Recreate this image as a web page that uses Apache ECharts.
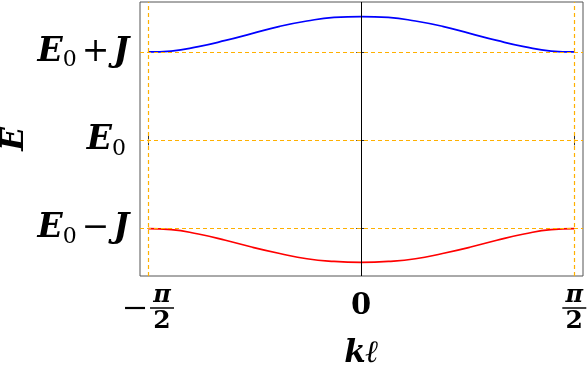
<!DOCTYPE html>
<html>
<head>
<meta charset="utf-8">
<script src="https://cdn.jsdelivr.net/npm/echarts@6/dist/echarts.min.js"></script>
<style>
html, body { margin: 0; padding: 0; background: #fff; }
#chart { width: 587px; height: 369px; }
</style>
</head>
<body>
<div id="chart"></div>
<script>
// band data (k in radians, E in units of J around E0)
var kVals = [-1.571, -1.4, -1.2, -1.0, -0.8, -0.6, -0.4, -0.2, 0, 0.2, 0.4, 0.6, 0.8, 1.0, 1.2, 1.4, 1.571];
var upperBand = [1.00, 1.01, 1.06, 1.13, 1.21, 1.29, 1.35, 1.39, 1.40, 1.39, 1.35, 1.29, 1.21, 1.13, 1.06, 1.01, 1.00];
var lowerBand = [-1.00, -1.01, -1.06, -1.13, -1.21, -1.28, -1.34, -1.37, -1.38, -1.37, -1.34, -1.28, -1.21, -1.13, -1.06, -1.01, -1.00];

var yTicks = [-1, 0, 1];
var yTickOps = ['\u2212', '', '+'];
var xTicks = [-1.5708, 0, 1.5708];
var xTickLabels = ['-pi/2', '0', 'pi/2'];

var serif = 'DejaVu Serif';
var orange = '#ffb000';

function pairs(ys) {
    return kVals.map(function(k, i) { return [k, ys[i]]; });
}

var chart = echarts.init(document.getElementById('chart'));

var option = {
    animation: false,
    grid: {
        left: 140, right: 4, top: 2, bottom: 93,
        outerBoundsMode: 'none', containLabel: false,
        show: true, borderColor: '#555', borderWidth: 1
    },
    xAxis: [{
        type: 'value', min: -1.63, max: 1.635,
        splitLine: { show: false },
        axisLine: { show: false },
        axisTick: { inside: true, length: 5, customValues: xTicks, lineStyle: { color: '#333' } },
        axisLabel: { show: false },
        name: 'k\u2113', nameLocation: 'middle', nameGap: 62,
        nameTextStyle: { fontFamily: serif, fontStyle: 'italic', fontWeight: 'bold', fontSize: 31, color: '#000' }
    }, {
        type: 'value', min: -1.63, max: 1.635, position: 'top',
        splitLine: { show: false },
        axisLine: { show: false },
        axisTick: { inside: true, length: 5, customValues: xTicks, lineStyle: { color: '#333' } },
        axisLabel: { show: false }
    }],
    yAxis: [{
        type: 'value', min: -1.535, max: 1.565,
        splitLine: { show: false },
        axisLine: { show: false },
        axisTick: { inside: true, length: 5, customValues: yTicks, lineStyle: { color: '#333' } },
        axisLabel: {
            customValues: yTicks, margin: 11,
            formatter: function(v) {
                var op = yTickOps[yTicks.indexOf(v)];
                return op ? '{e|E}{s|0}{o|' + op + '}{e|J}' : '{e|E}{s|0}';
            },
            rich: {
                e: { fontFamily: serif, fontStyle: 'italic', fontWeight: 'bold', fontSize: 33, color: '#000' },
                s: { fontFamily: serif, fontSize: 22, color: '#000', padding: [17, 3, 0, 0] },
                o: { fontFamily: serif, fontSize: 33, color: '#000', padding: [0, 4, 0, 2] }
            }
        }
    }, {
        type: 'value', min: -1.535, max: 1.565, position: 'right',
        splitLine: { show: false },
        axisLine: { show: false },
        axisTick: { inside: true, length: 5, customValues: yTicks, lineStyle: { color: '#333' } },
        axisLabel: { show: false }
    }],
    series: [
        {
            type: 'line', data: [], silent: true,
            markLine: {
                silent: true, symbol: 'none', label: { show: false },
                lineStyle: { color: orange, type: [4, 3], width: 1.2, opacity: 1 },
                data: [{ yAxis: 1 }, { yAxis: 0 }, { yAxis: -1 }, { xAxis: xTicks[0] }, { xAxis: xTicks[2] }]
            }
        },
        {
            type: 'line', data: [], silent: true,
            markLine: {
                silent: true, symbol: 'none', label: { show: false },
                lineStyle: { color: '#000', type: 'solid', width: 1 },
                data: [{ xAxis: 0 }]
            }
        },
        {
            name: 'upper', type: 'line', data: pairs(upperBand), smooth: true,
            symbol: 'none', lineStyle: { color: '#0000ff', width: 1.7 }
        },
        {
            name: 'lower', type: 'line', data: pairs(lowerBand), smooth: true,
            symbol: 'none', lineStyle: { color: '#ff0000', width: 1.7 }
        }
    ]
};
chart.setOption(option);

// y axis title, rotated
var els = [{
    type: 'text', x: 15, y: 139, rotation: Math.PI / 2,
    style: { text: 'E', font: 'italic bold 31px ' + serif, fill: '#000', align: 'center', verticalAlign: 'middle' }
}];

// x tick labels drawn as fractions
xTicks.forEach(function(v, i) {
    var x = chart.convertToPixel({ xAxisIndex: 0 }, v);
    var lab = xTickLabels[i];
    if (lab === '0') {
        els.push({ type: 'text', x: x, y: 306, style: { text: '0', font: 'bold 29px ' + serif, fill: '#000', align: 'center', verticalAlign: 'middle' } });
        return;
    }
    var cx = x;
    if (lab.charAt(0) === '-') {
        cx = x + 14;
        els.push({ type: 'line', shape: { x1: x - 23, y1: 308, x2: x - 3, y2: 308 }, style: { stroke: '#000', lineWidth: 2.2 } });
    }
    els.push({ type: 'text', x: cx, y: 296, style: { text: '\u03c0', font: 'italic bold 24px ' + serif, fill: '#000', align: 'center', verticalAlign: 'middle' } });
    els.push({ type: 'line', shape: { x1: cx - 12, y1: 308, x2: cx + 12, y2: 308 }, style: { stroke: '#000', lineWidth: 1.5 } });
    els.push({ type: 'text', x: cx, y: 321, style: { text: '2', font: 'bold 25px ' + serif, fill: '#000', align: 'center', verticalAlign: 'middle' } });
});
chart.setOption({ graphic: els });
</script>
</body>
</html>
